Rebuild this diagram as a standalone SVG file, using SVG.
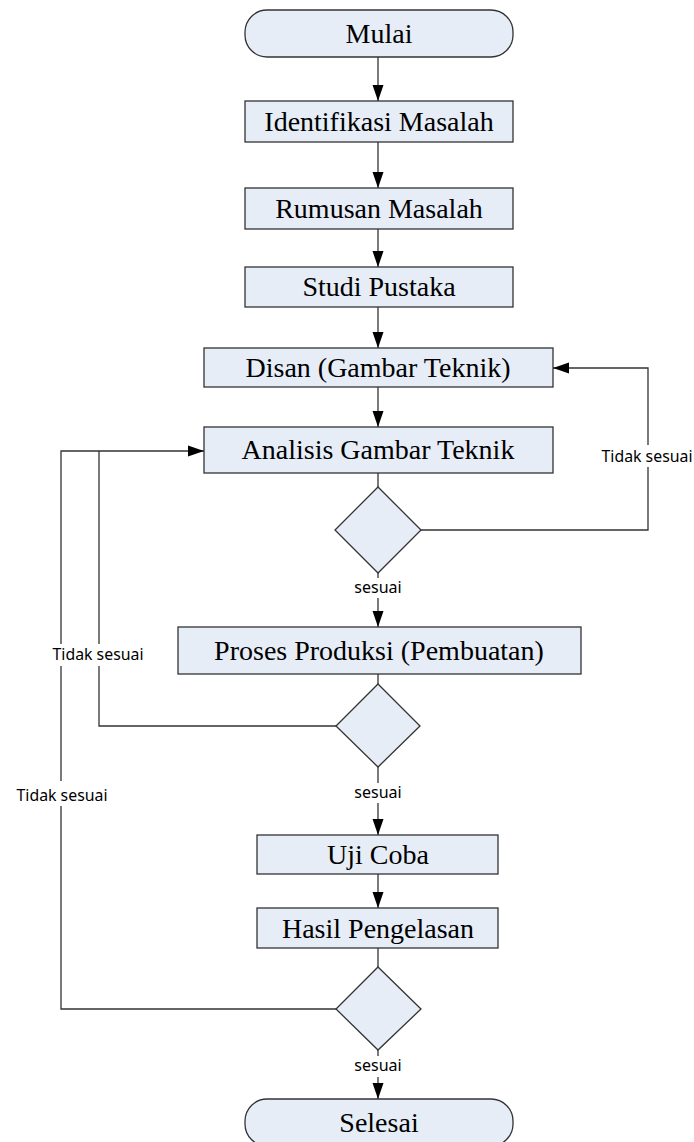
<svg xmlns="http://www.w3.org/2000/svg" width="694" height="1142" viewBox="0 0 694 1142">
<style>
.box{fill:#E6EDF7;stroke:#333;stroke-width:1.3}
.t{font-family:"Liberation Serif","Times New Roman",serif;font-size:28px;fill:#000;text-anchor:middle}
.lbl{font-family:"Noto Sans","Open Sans",sans-serif;font-size:16px;fill:#000;text-anchor:middle}
.c{fill:none;stroke:#333;stroke-width:1.3}
.bg{fill:#fff}
</style>
<defs>
<marker id="ah" markerUnits="userSpaceOnUse" markerWidth="18" markerHeight="14" viewBox="0 0 18 14" refX="16" refY="7" orient="auto">
<path d="M0,1.5 L16,7 L0,12.5 Z" fill="#000"/>
</marker>
</defs>
<rect width="694" height="1142" fill="#fff"/>
<g id="connectors">
<path class="c" d="M378,57 V101" marker-end="url(#ah)"/>
<path class="c" d="M378,142 V188" marker-end="url(#ah)"/>
<path class="c" d="M378,229 V267" marker-end="url(#ah)"/>
<path class="c" d="M378,307 V348" marker-end="url(#ah)"/>
<path class="c" d="M378,387 V427" marker-end="url(#ah)"/>
<path class="c" d="M378,473 V487"/>
<path class="c" d="M378,573 V627" marker-end="url(#ah)"/>
<path class="c" d="M378,674 V684"/>
<path class="c" d="M378,767 V835" marker-end="url(#ah)"/>
<path class="c" d="M378,874 V908" marker-end="url(#ah)"/>
<path class="c" d="M378,948 V967"/>
<path class="c" d="M378,1050 V1099" marker-end="url(#ah)"/>
<path class="c" d="M421,530 H648 V368 H553" marker-end="url(#ah)"/>
<path class="c" d="M336,726 H99 V451"/>
<path class="c" d="M336,1009 H61 V451 H204" marker-end="url(#ah)"/>
<rect class="bg" x="350" y="578" width="56" height="20"/>
<text class="lbl" x="378" y="593">sesuai</text>
<rect class="bg" x="350" y="783" width="56" height="20"/>
<text class="lbl" x="378" y="798">sesuai</text>
<rect class="bg" x="350" y="1056" width="56" height="21"/>
<text class="lbl" x="378" y="1071">sesuai</text>
<rect class="bg" x="600" y="445" width="96" height="22"/>
<text class="lbl" x="647" y="462" textLength="91" lengthAdjust="spacingAndGlyphs">Tidak sesuai</text>
<rect class="bg" x="54" y="644" width="92" height="22"/>
<text class="lbl" x="98" y="660" textLength="91" lengthAdjust="spacingAndGlyphs">Tidak sesuai</text>
<rect class="bg" x="16" y="781" width="92" height="25"/>
<text class="lbl" x="62" y="801" textLength="91" lengthAdjust="spacingAndGlyphs">Tidak sesuai</text>
</g>
<g id="mulai"><rect class="box" x="245" y="10" width="268" height="47" rx="22" ry="22"/><text class="t" x="379" y="43">Mulai</text></g>
<g id="identifikasi"><rect class="box" x="245" y="101" width="268" height="41"/><text class="t" x="379" y="131">Identifikasi Masalah</text></g>
<g id="rumusan"><rect class="box" x="245" y="188" width="268" height="41"/><text class="t" x="379" y="218">Rumusan Masalah</text></g>
<g id="studi"><rect class="box" x="245" y="267" width="268" height="40"/><text class="t" x="379" y="296">Studi Pustaka</text></g>
<g id="disan"><rect class="box" x="204" y="348" width="349" height="39"/><text class="t" x="378" y="377">Disan (Gambar Teknik)</text></g>
<g id="analisis"><rect class="box" x="204" y="427" width="349" height="46"/><text class="t" x="378" y="459">Analisis Gambar Teknik</text></g>
<g id="decision1"><polygon class="box" points="378,487 421,530 378,573 335,530"/></g>
<g id="proses"><rect class="box" x="178" y="627" width="403" height="47"/><text class="t" x="379" y="660">Proses Produksi (Pembuatan)</text></g>
<g id="decision2"><polygon class="box" points="378,684 420,726 378,767 336,726"/></g>
<g id="uji"><rect class="box" x="257" y="835" width="241" height="39"/><text class="t" x="378" y="864">Uji Coba</text></g>
<g id="hasil"><rect class="box" x="257" y="908" width="241" height="40"/><text class="t" x="378" y="938">Hasil Pengelasan</text></g>
<g id="decision3"><polygon class="box" points="378,967 421,1009 378,1050 336,1009"/></g>
<g id="selesai"><rect class="box" x="245" y="1099" width="268" height="47" rx="22" ry="22"/><text class="t" x="379" y="1132">Selesai</text></g>
</svg>
